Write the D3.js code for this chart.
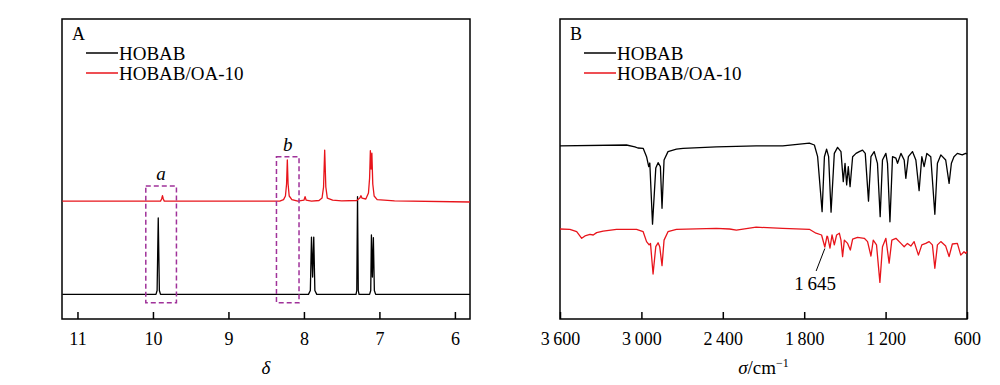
<!DOCTYPE html>
<html>
<head>
    <script src="https://d3js.org/d3.v7.min.js"></script>
    <style>
        body { margin: 0; background: #ffffff; }
        svg text { font-family: "Liberation Serif", "Times New Roman", Times, serif !important; fill: #000; }
    </style>
</head>
<body>
    <svg id="canvas" width="1000" height="385"></svg>
    <script>
        const svg = d3.select('#canvas');
        const TOP = 19, BOTTOM = 319;

        //series names
        const seriesNames = ['HOBAB', 'HOBAB/OA-10'];
        const seriesColors = ['#000000', '#e8141b'];

        //panel A: 1H NMR, [shift (ppm), intensity]
        const nmrHobab = [[11.2, 8.2], [9.96, 8.2], [9.945, 9.5], [9.93, 33.7], [9.915, 9.5], [9.9, 8.2],
            [7.94, 8.2], [7.915, 9.5], [7.90, 27.3], [7.885, 14], [7.87, 27.3], [7.855, 9.5], [7.83, 8.2],
            [7.31, 8.2], [7.30, 9.5], [7.29, 40.8], [7.28, 9.5], [7.27, 8.2],
            [7.13, 8.2], [7.115, 9.5], [7.106, 28], [7.093, 14], [7.08, 27.1], [7.067, 9.5], [7.05, 8.2], [5.8, 8.2]];
        const nmrHobabOa = [[11.2, 39.3], [9.9, 39.3], [9.885, 40], [9.874, 41.1], [9.863, 40], [9.85, 39.3],
            [8.32, 39.3], [8.27, 39.8], [8.245, 41], [8.23, 45], [8.22, 53], [8.21, 45], [8.195, 41], [8.16, 39.8],
            [8.08, 39.3], [8.0, 39.6], [7.985, 40.8], [7.97, 39.6], [7.9, 39.3], [7.8, 39.5], [7.76, 40.3],
            [7.74, 44], [7.725, 56.3], [7.71, 44], [7.69, 40.3], [7.62, 39.6], [7.5, 39.4], [7.3, 39.5],
            [7.26, 40.3], [7.245, 41.1], [7.23, 40.3], [7.18, 40], [7.145, 42], [7.13, 47], [7.12, 56.1],
            [7.11, 50], [7.10, 55.3], [7.088, 45], [7.07, 41], [7.03, 39.8], [6.8, 39.4], [5.8, 39]];
        const nmrTicks = [11, 10, 9, 8, 7, 6];
        //highlight boxes: [ppm left, ppm right, intensity bottom, intensity top, label]
        const nmrBoxes = [[10.095, 9.689, 5.4, 44.3, 'a'], [8.364, 8.065, 5.4, 54.1, 'b']];

        //panel B: FTIR, [wavenumber (cm-1), transmittance]
        const irHobab = [[3600, 57.7], [3110, 58], [3048, 57.4], [3026, 57], [2987, 56.9], [2962, 54.1],
            [2946, 50.8], [2938, 52], [2918, 31.6], [2894, 50.3], [2877, 52.1], [2860, 50.8], [2848, 36.9],
            [2833, 53], [2804, 55.8], [2742, 56.6], [2693, 56.9], [2448, 57.4], [2154, 57.7], [1958, 57.7],
            [1762, 58.6], [1725, 58], [1701, 54.1], [1668, 35.8], [1651, 54.1], [1635, 56.6], [1620, 54.1],
            [1602, 35.6], [1578, 55.2], [1554, 57.2], [1529, 55.8], [1512, 45.8], [1499, 51.9], [1487, 44.7],
            [1475, 50.8], [1462, 44.1], [1443, 54.1], [1418, 55.2], [1394, 55.8], [1370, 56.3], [1350, 55.2],
            [1326, 39.3], [1308, 54.1], [1284, 55.8], [1260, 51.9], [1240, 34.1], [1223, 53], [1198, 55.2],
            [1186, 51.9], [1168, 32.4], [1149, 54.1], [1124, 53.6], [1112, 51.9], [1087, 55.2], [1063, 53],
            [1051, 46.9], [1032, 54.1], [1002, 55.8], [977, 53], [953, 42.8], [933, 54.1], [916, 50.8],
            [896, 55.2], [867, 54.1], [837, 34.9], [818, 51.9], [793, 54.7], [757, 53], [732, 45.2],
            [715, 51.9], [696, 54.1], [671, 55.2], [635, 54.7], [610, 55.2], [600, 55]];
        const irHobabOa = [[3600, 30], [3527, 29.9], [3477, 29.1], [3440, 26.9], [3416, 27.7], [3379, 28.2],
            [3355, 28], [3330, 28.8], [3282, 29.3], [3183, 29.9], [3036, 29.9], [2987, 29.1], [2962, 25.8],
            [2943, 24.7], [2933, 25.2], [2914, 15], [2894, 24.1], [2877, 25.4], [2865, 24.1], [2848, 17.8],
            [2833, 26.3], [2804, 29.1], [2742, 29.9], [2448, 30.2], [2350, 30], [2300, 29.6], [2154, 30.6],
            [1958, 30.2], [1762, 29.9], [1713, 28.6], [1672, 28], [1648, 24], [1632, 27.6], [1627, 27.4],
            [1610, 23.6], [1595, 28], [1578, 24.7], [1561, 28], [1541, 28.6], [1529, 26.3], [1517, 20.8],
            [1504, 26.3], [1480, 25.2], [1460, 23], [1443, 26.6], [1407, 27.2], [1357, 26.9], [1333, 25.8],
            [1308, 21], [1291, 26.3], [1267, 24.7], [1242, 12.2], [1223, 24.1], [1198, 26.9], [1174, 18.6],
            [1154, 26.3], [1124, 26.9], [1087, 25.2], [1063, 24.1], [1039, 25.2], [1014, 24.3], [990, 25.8],
            [958, 21.3], [933, 24.7], [904, 25.2], [879, 25.8], [855, 24.7], [837, 16.9], [818, 24.7],
            [793, 25.8], [757, 24.3], [732, 20.8], [708, 25], [671, 25.2], [646, 21.3], [622, 22.4],
            [610, 21.9], [600, 22.5]];
        const irTicks = [3600, 3000, 2400, 1800, 1200, 600];
        //annotation: [from wn, from T, to wn, to T, label]
        const irNote = [1648, 23.5, 1712, 16, '1\u2009645'];

        const y = d3.scaleLinear().domain([0, 100]).range([BOTTOM, TOP]);
        const line = (xs) => d3.line().x(d => xs(d[0])).y(d => y(d[1]));

        function panel(left, right, letter, x, ticks, fmt, series, axisLabel) {
            const g = svg.append('g');
            g.append('rect')
                .attr('x', left).attr('y', TOP)
                .attr('width', right - left).attr('height', BOTTOM - TOP)
                .attr('fill', 'none').attr('stroke', '#000').attr('stroke-width', 1.5);

            //ticks point inwards from the bottom edge
            const axis = d3.axisBottom(x).tickValues(ticks).tickSizeInner(-7).tickSizeOuter(0)
                .tickPadding(13).tickFormat(fmt);
            const ax = g.append('g').attr('transform', `translate(0,${BOTTOM})`).call(axis);
            ax.select('.domain').remove();
            ax.selectAll('.tick line').attr('stroke', '#000').attr('stroke-width', 1.5);
            ax.selectAll('.tick text').attr('font-size', 18);

            series.forEach((s, i) => {
                g.append('path')
                    .attr('d', line(x)(s))
                    .attr('fill', 'none')
                    .attr('stroke', seriesColors[i])
                    .attr('stroke-width', 1.3)
                    .attr('stroke-linejoin', 'round');
            });

            g.append('text').attr('x', left + 10).attr('y', 40).attr('font-size', 18).text(letter);
            seriesNames.forEach((n, i) => {
                const ly = 53 + i * 20;
                g.append('line').attr('x1', left + 24).attr('x2', left + 56)
                    .attr('y1', ly).attr('y2', ly)
                    .attr('stroke', seriesColors[i]).attr('stroke-width', 1.5);
                g.append('text').attr('x', left + 57).attr('y', ly + 6.5)
                    .attr('font-size', 19).text(n);
            });

            const lab = g.append('text').attr('x', (left + right) / 2).attr('y', 374)
                .attr('text-anchor', 'middle').attr('font-size', 19);
            axisLabel(lab);
            return g;
        }

        //panel A
        const xA = d3.scaleLinear().domain([11.205, 5.8]).range([62, 470]);
        const gA = panel(62, 470, 'A', xA, nmrTicks, d => d, [nmrHobab, nmrHobabOa],
            t => t.append('tspan').attr('font-style', 'italic').text('\u03b4'));

        nmrBoxes.forEach(b => {
            gA.append('rect')
                .attr('x', xA(b[0])).attr('y', y(b[3]))
                .attr('width', xA(b[1]) - xA(b[0])).attr('height', y(b[2]) - y(b[3]))
                .attr('fill', 'none').attr('stroke', '#a0329a')
                .attr('stroke-width', 1.5).attr('stroke-dasharray', '5,3');
            gA.append('text')
                .attr('x', (xA(b[0]) + xA(b[1])) / 2).attr('y', y(b[3]) - 6)
                .attr('text-anchor', 'middle').attr('font-size', 19)
                .attr('font-style', 'italic').text(b[4]);
        });

        //panel B
        const xB = d3.scaleLinear().domain([3600, 600]).range([560, 967]);
        const gB = panel(560, 967, 'B', xB, irTicks, d => d3.format(',')(d).replace(',', '\u2009'),
            [irHobab, irHobabOa],
            t => {
                t.append('tspan').attr('font-style', 'italic').text('\u03c3');
                t.append('tspan').text('/cm');
                t.append('tspan').attr('font-size', 12).attr('dy', -7).text('\u22121');
            });

        gB.append('line')
            .attr('x1', xB(irNote[0])).attr('y1', y(irNote[1]))
            .attr('x2', xB(irNote[2])).attr('y2', y(irNote[3]))
            .attr('stroke', '#000').attr('stroke-width', 1);
        gB.append('text')
            .attr('x', xB(irNote[2]) - 1).attr('y', y(irNote[3]) + 19)
            .attr('text-anchor', 'middle').attr('font-size', 19).text(irNote[4]);
    </script>
</body>
</html>
